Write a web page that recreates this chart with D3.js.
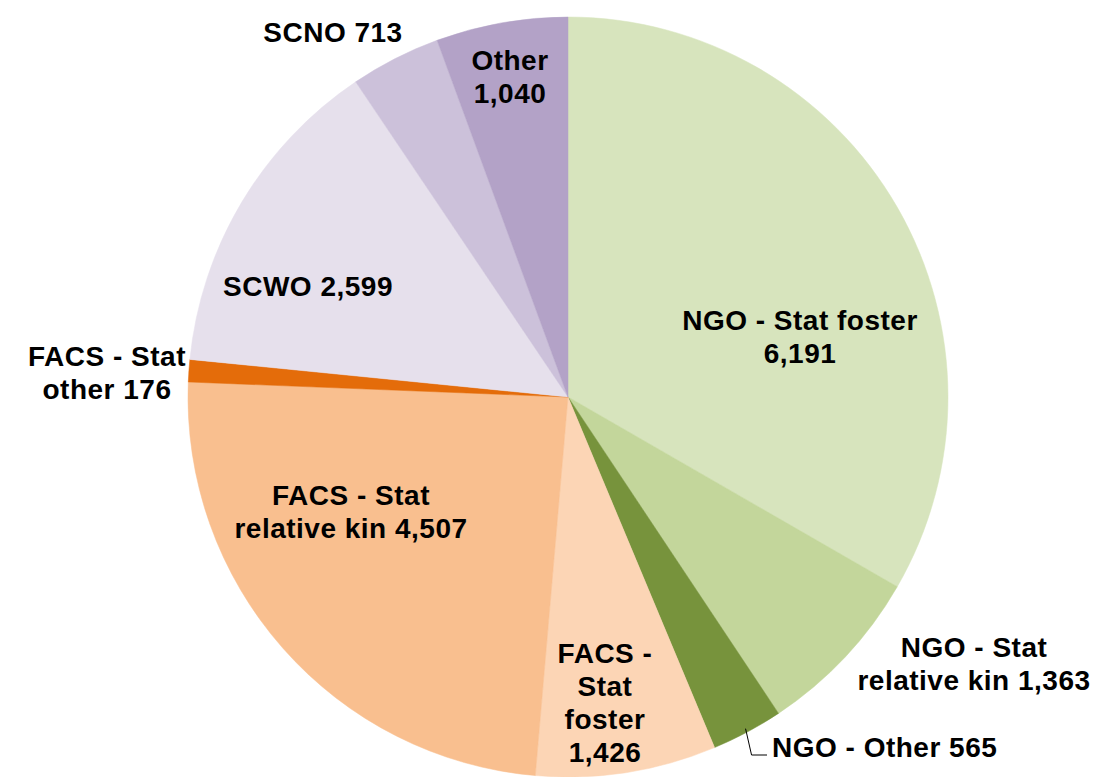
<!DOCTYPE html>
<head>
    <meta charset="utf-8">
    <style>
        body { margin: 0; background: #fff; }
        text {
            font-family: "Liberation Sans", Arial, sans-serif;
            font-size: 28px;
            letter-spacing: 0.5px;
            font-weight: bold;
            fill: #000;
        }
    </style>
</head>
<body>
    <svg width="1093" height="777"></svg>
    <script src="https://d3js.org/d3.v7.min.js"></script>
    <script>
    // data
    var categories = ["NGO - Stat foster", "NGO - Stat relative kin", "NGO - Other",
        "FACS - Stat foster", "FACS - Stat relative kin", "FACS - Stat other",
        "SCWO", "SCNO", "Other"];
    var values = [6191, 1363, 565, 1426, 4507, 176, 2599, 713, 1040];
    var colors = ["#d7e4bd", "#c3d69b", "#77933c", "#fcd5b5", "#f9bf8f", "#e46c0a",
        "#e6e0ec", "#ccc1da", "#b3a2c7"];
    // label lines as displayed
    var labelLines = [
        ["NGO - Stat foster", "6,191"],
        ["NGO - Stat", "relative kin 1,363"],
        ["NGO - Other 565"],
        ["FACS -", "Stat", "foster", "1,426"],
        ["FACS - Stat", "relative kin 4,507"],
        ["FACS - Stat", "other 176"],
        ["SCWO 2,599"],
        ["SCNO 713"],
        ["Other", "1,040"]
    ];
    // label anchor (x centre, first baseline)
    var labelPos = [
        [800, 330], [974, 657], [772, 757], [605, 663], [351, 505],
        [107, 366], [308, 296], [333, 42], [510, 70]
    ];

    var svg = d3.select("svg"),
        cx = 568, cy = 397, radius = 380;

    var pie = d3.pie().sort(null).value(function(d) { return d; });
    var arc = d3.arc().innerRadius(0).outerRadius(radius);

    var g = svg.append("g").attr("transform", "translate(" + cx + "," + cy + ")");
    var arcs = pie(values);

    g.selectAll("path")
        .data(arcs)
        .enter().append("path")
        .attr("d", arc)
        .attr("fill", function(d, i) { return colors[i]; })
        .attr("stroke", function(d, i) { return colors[i]; })
        .attr("stroke-width", 0.5);

    // leader line for NGO - Other
    var a2 = arcs[2];
    var mid = (a2.startAngle + a2.endAngle) / 2;
    var p0 = [cx + radius * 0.99 * Math.sin(mid), cy - radius * 0.99 * Math.cos(mid)];
    svg.append("polyline")
        .attr("points", [p0, [p0[0] + 6, 755], [767, 755]].map(function(p) { return p.join(","); }).join(" "))
        .attr("fill", "none")
        .attr("stroke", "#000")
        .attr("stroke-width", 1);

    var labels = svg.selectAll("text.label")
        .data(labelLines)
        .enter().append("text")
        .attr("class", "label")
        .attr("text-anchor", function(d, i) { return i === 2 ? "start" : "middle"; })
        .attr("transform", function(d, i) { return "translate(" + labelPos[i][0] + "," + labelPos[i][1] + ")"; });

    labels.selectAll("tspan")
        .data(function(d) { return d; })
        .enter().append("tspan")
        .attr("x", 0)
        .attr("dy", function(d, j) { return j === 0 ? 0 : 33; })
        .text(function(d) { return d; });
    </script>
</body>
